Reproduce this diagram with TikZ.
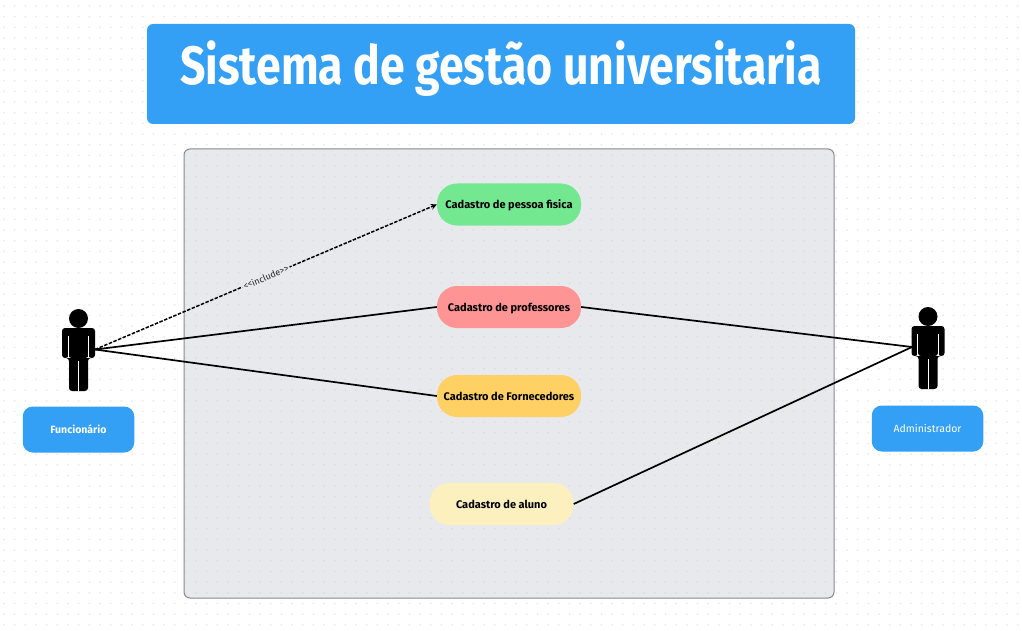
\documentclass[tikz,border=0pt]{standalone}
\usepackage{fontspec}
\setmainfont{Fira Sans}
\newfontfamily\inclfont[RawFeature={-calt;-liga}]{Fira Sans}
\usetikzlibrary{arrows.meta}
\definecolor{bluebox}{HTML}{339FF5}
\definecolor{panelfill}{HTML}{E8E9ED}
\definecolor{panelline}{HTML}{8A8A8A}
\definecolor{dotout}{HTML}{E9E9E9}
\definecolor{dotin}{HTML}{DCDDE2}
\tikzset{
  x=1pt,y=-1pt,
  usecase/.style={rounded corners=20pt,minimum width=144pt,minimum height=42pt,inner sep=0pt,
    text height=8.5pt,text depth=0pt,
    font=\fontsize{11}{12}\selectfont\bfseries,text=black},
  rolebox/.style={fill=bluebox,rounded corners=10pt,minimum width=111.5pt,minimum height=46pt,inner sep=0pt,text=white,
    text height=8.5pt,text depth=0pt,
    font=\fontsize{10.5}{12}\selectfont},
  assoc/.style={line width=1.7pt,black},
  incl/.style={line width=1.5pt,black,dash pattern=on 3.5pt off 1.5pt,-{Stealth[length=6pt,width=6pt]}},
  dotrow/.style={line width=2pt,line cap=round,dash pattern=on 0pt off 10.67pt},
  actorshape/.pic={
    \fill[black] (0,-31.5) circle (9.5);
    \fill[black,rounded corners=3pt] (-16.5,-22) -- (16.5,-22) -- (16.5,8) -- (10,8) -- (10,8) -- (9.5,8) -- (9.5,41) -- (-9.5,41) -- (-9.5,8) -- (-10,8) -- (-10,8) -- (-16.5,8) -- cycle;
    \draw[white,line width=.7pt] (0,11) -- (0,41);
    \draw[white,line width=.7pt] (-10.2,-14) -- (-10.2,8);
    \draw[white,line width=.7pt] (10.2,-14) -- (10.2,8);
  }
}
\begin{document}
\begin{tikzpicture}
\useasboundingbox (0,0) rectangle (1022,631);
\fill[white] (0,0) rectangle (1022,631);
% dot grid on the page
\foreach \j in {0,...,58}{
  \draw[dotrow,dotout] (4,{6+\j*10.67}) -- (1022,{6+\j*10.67});
}
% title
\node[fill=bluebox,rounded corners=6pt,minimum width=708pt,minimum height=100pt,inner sep=0pt,text=white] (title) at (501,74) {};
\node[text=white,inner sep=0pt,font=\fontsize{54}{58}\selectfont\bfseries] (titletext) at (501,69) {\scalebox{.826}[1]{Sistema de gestão universitaria}};
% panel
\node[fill=panelfill,draw=panelline,line width=1pt,rounded corners=6pt,minimum width=650pt,minimum height=449pt,inner sep=0pt] (panel) at (509,373.5) {};
\begin{scope}
\clip[rounded corners=6pt] (185,150) rectangle (833,597);
\foreach \j in {14,...,56}{
  \draw[dotrow,dotin] (4,{6+\j*10.67}) -- (1022,{6+\j*10.67});
}
\end{scope}
% use cases
\node[usecase,fill={rgb,255:red,115;green,232;blue,145}] (pf) at (509,204.5) {Cadastro de pessoa fisica};
\node[usecase,fill={rgb,255:red,255;green,148;blue,148}] (prof) at (509,307) {Cadastro de professores};
\node[usecase,fill={rgb,255:red,255;green,208;blue,100}] (forn) at (509,396) {Cadastro de Fornecedores};
\node[usecase,fill={rgb,255:red,252;green,240;blue,190}] (aluno) at (501.5,504) {Cadastro de aluno};
% actors
\pic at (78.5,350) {actorshape};
\pic at (928,348) {actorshape};
\coordinate (func) at (95,349.5);
\coordinate (adm) at (912,347);
\node[rolebox,font=\fontsize{10.5}{12}\selectfont\bfseries] (funcbox) at (78.5,429.5) {Funcionário};
\node[rolebox] (admbox) at (927.5,428.5) {Administrador};
% connectors
\draw[incl] (func) -- (pf.west) node[pos=.5,sloped,fill=panelfill,inner sep=1.5pt,text=black!85,font=\fontsize{9}{10}\selectfont\inclfont] (inc) {<<include>>};
\draw[assoc] (func) -- (prof.west);
\draw[assoc] (func) -- (forn.west);
\draw[assoc] (prof.east) -- (adm);
\draw[assoc] (aluno.east) -- (adm);
\end{tikzpicture}
\end{document}
